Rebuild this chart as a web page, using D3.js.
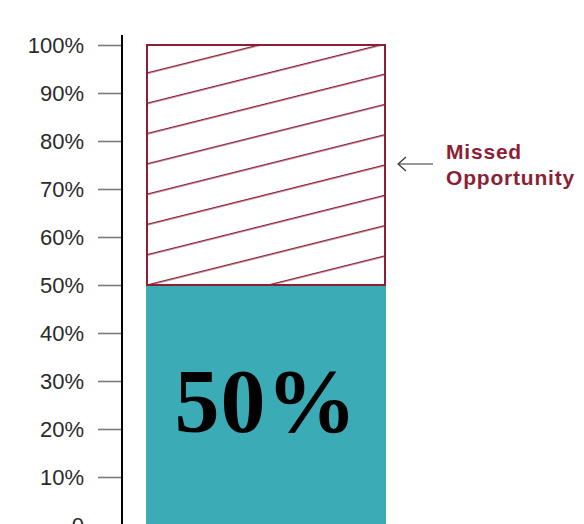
<html>
<head>
<script src="https://cdn.jsdelivr.net/npm/d3@7/dist/d3.min.js"></script>
<style>
  body { margin: 0; background: #fff; }
  svg { display: block; }
</style>
</head>
<body>
<div id="chart"></div>
<script>
  // values
  var categories = ["Result"];
  var achieved = [50];
  var missed = [50];
  var yTicks = [0, 10, 20, 30, 40, 50, 60, 70, 80, 90, 100];
  var tickLabels = ["0", "10%", "20%", "30%", "40%", "50%", "60%", "70%", "80%", "90%", "100%"];
  var bigLabel = "50%";
  var noteLines = ["Missed", "Opportunity"];

  var width = 584, height = 524;
  var teal = "#3babb6", wine = "#8c1f36";

  var svg = d3.select("#chart").append("svg")
    .attr("width", width)
    .attr("height", height);

  var y = d3.scaleLinear().domain([0, 100]).range([525, 45]);
  var x = d3.scaleBand().domain(categories).range([146, 386]).padding(0);

  // hatch pattern, lines rising to the right (slope 1/4)
  var theta = Math.atan(0.25);
  var gap = 30.3 * Math.cos(theta);
  var phase = (109.75 * Math.cos(theta)) % gap;
  var defs = svg.append("defs");
  defs.append("pattern")
    .attr("id", "hatch")
    .attr("patternUnits", "userSpaceOnUse")
    .attr("width", 40)
    .attr("height", gap)
    .attr("patternTransform", "rotate(" + (-theta * 180 / Math.PI) + ")")
    .append("line")
    .attr("x1", 0).attr("x2", 40)
    .attr("y1", phase).attr("y2", phase)
    .attr("stroke", wine)
    .attr("stroke-width", 1.4);

  // axis
  var axis = d3.axisLeft(y)
    .tickValues(yTicks)
    .tickFormat(function(d, i) { return tickLabels[i]; })
    .tickSize(24)
    .tickPadding(14);

  var gAxis = svg.append("g")
    .attr("transform", "translate(122,0)")
    .call(axis);
  gAxis.select(".domain").remove();
  gAxis.selectAll(".tick line").attr("stroke", "#7a7a7a").attr("stroke-width", 1.6);
  gAxis.selectAll(".tick text")
    .attr("fill", "#2a2a2a")
    .style("font-family", "'Liberation Sans', Arial, sans-serif")
    .style("font-size", "22px");

  svg.append("line")
    .attr("x1", 122).attr("x2", 122)
    .attr("y1", 35).attr("y2", height)
    .attr("stroke", "#000")
    .attr("stroke-width", 2);

  // achieved part
  svg.selectAll(".achieved").data(categories).enter().append("rect")
    .attr("class", "achieved")
    .attr("x", function(d) { return x(d); })
    .attr("width", x.bandwidth())
    .attr("y", function(d, i) { return y(achieved[i]); })
    .attr("height", function(d, i) { return y(0) - y(achieved[i]); })
    .attr("fill", teal);

  // missed part
  svg.selectAll(".missed").data(categories).enter().append("rect")
    .attr("class", "missed")
    .attr("x", function(d) { return x(d) + 1; })
    .attr("width", x.bandwidth() - 2)
    .attr("y", function(d, i) { return y(achieved[i] + missed[i]); })
    .attr("height", function(d, i) { return y(achieved[i]) - y(achieved[i] + missed[i]); })
    .attr("fill", "url(#hatch)")
    .attr("stroke", wine)
    .attr("stroke-width", 2);

  // big value
  svg.selectAll(".big").data(categories).enter().append("text")
    .attr("class", "big")
    .attr("x", function(d) { return x(d) + x.bandwidth() / 2; })
    .attr("y", function(d, i) { return y(achieved[i] / 2) + 27; })
    .attr("text-anchor", "middle")
    .style("font-family", "'Liberation Serif', 'Times New Roman', serif")
    .style("font-weight", "bold")
    .style("font-size", "90px")
    .style("letter-spacing", "1px")
    .attr("fill", "#000")
    .text(bigLabel);

  // annotation
  var noteY = y(achieved[0] + missed[0] / 2) - 1;
  svg.append("line")
    .attr("x1", 398).attr("x2", 433)
    .attr("y1", noteY).attr("y2", noteY)
    .attr("stroke", "#333").attr("stroke-width", 1.2);
  svg.append("path")
    .attr("d", "M406," + (noteY - 7) + " L398," + noteY + " L406," + (noteY + 7))
    .attr("fill", "none")
    .attr("stroke", "#333").attr("stroke-width", 1.2);

  svg.selectAll(".note").data(noteLines).enter().append("text")
    .attr("class", "note")
    .attr("x", 446)
    .attr("y", function(d, i) { return 159 + i * 26; })
    .attr("fill", wine)
    .style("font-family", "'Liberation Sans', Arial, sans-serif")
    .style("font-weight", "bold")
    .style("font-size", "21px")
    .style("letter-spacing", "0.8px")
    .text(function(d) { return d; });
</script>
</body>
</html>
